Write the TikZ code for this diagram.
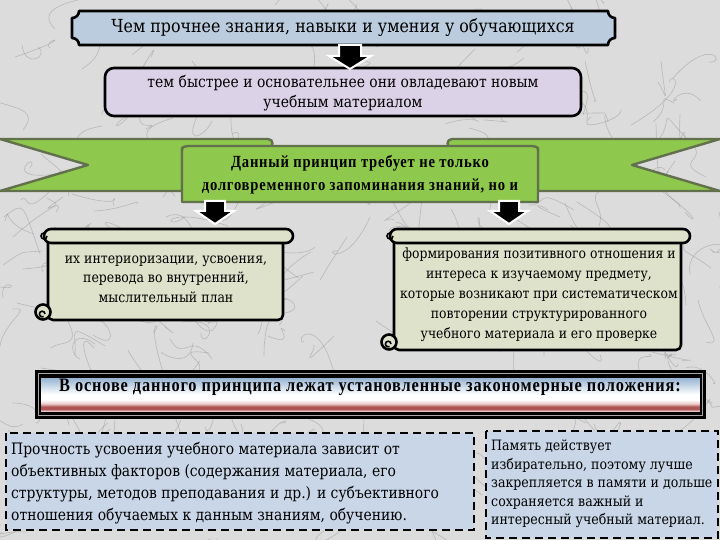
\documentclass[tikz,border=0pt]{standalone}
\usepackage{fontspec}
\setmainfont{DejaVu Serif}[FakeStretch=0.88]
\newfontfamily\condbw{Liberation Serif Bold}[FakeStretch=0.86, LetterSpace=4.5]
\definecolor{bg}{RGB}{220,220,220}
\definecolor{vein}{RGB}{140,140,140}
\definecolor{plaqueblue}{RGB}{186,204,222}
\definecolor{lav}{RGB}{220,210,232}
\definecolor{ribgreen}{RGB}{142,200,76}
\definecolor{ribedge}{RGB}{98,112,78}
\definecolor{scrollfill}{RGB}{222,226,202}
\definecolor{dashfill}{RGB}{200,214,232}
\definecolor{stripblue}{RGB}{150,180,210}
\definecolor{stripred}{RGB}{172,84,84}
\definecolor{strippink}{RGB}{236,204,204}
\pgfdeclareverticalshading{stripshade}{100bp}{color(0bp)=(strippink); color(3bp)=(stripred); color(6bp)=(stripred); color(10bp)=(strippink); color(15bp)=(white); color(22bp)=(white); color(44bp)=(stripblue)}
\tikzset{
  edge/.style={draw=black, line width=2.6pt, line join=round},
  blockarrow/.style={fill=black, draw=white, line width=2pt, line join=miter},
  ribbon/.style={fill=ribgreen, draw=ribedge, line width=2.4pt, line join=round},
  scroll/.style={fill=scrollfill, draw=black, line width=2.6pt, line join=round},
  dashbox/.style={fill=dashfill, draw=black, line width=2.4pt, dash pattern=on 8pt off 5pt},
  txt/.style={inner sep=0pt, text=black},
  veinline/.style={draw=vein, line width=0.6pt, opacity=0.45, line cap=round},
}
\begin{document}
\begin{tikzpicture}[x=1pt,y=-1pt]
\fill[bg] (0,0) rectangle (720,540);
\useasboundingbox (0,0) rectangle (720,540);

% ---- marble texture (veins)
\pgfmathsetseed{17}
\begin{scope}
\clip (0,0) rectangle (720,540);
\foreach \i in {1,...,260} {
  \pgfmathsetmacro\xa{random(0,720)}
  \pgfmathsetmacro\ya{random(0,540)}
  \pgfmathsetmacro\xb{\xa+random(-25,25)}
  \pgfmathsetmacro\yb{\ya+random(-25,25)}
  \pgfmathsetmacro\xc{\xa+random(-35,35)}
  \pgfmathsetmacro\yc{\ya+random(-35,35)}
  \pgfmathsetmacro\xd{\xa+random(-45,45)}
  \pgfmathsetmacro\yd{\ya+random(-45,45)}
  \draw[veinline] (\xa,\ya) .. controls (\xb,\yb) and (\xc,\yc) .. (\xd,\yd);
}
\end{scope}

% ---- top plaque
\draw[edge, fill=plaqueblue]
  (79,11) -- (608,11) .. controls (608,15) and (611,18) .. (615,18)
  -- (615,38) .. controls (611,38) and (608,41) .. (608,45)
  -- (79,45) .. controls (79,41) and (76,38) .. (72,38)
  -- (72,18) .. controls (76,18) and (79,15) .. (79,11) -- cycle;
\node[txt, font=\fontsize{18}{22}\selectfont] (top) at (343,28) {Чем прочнее знания, навыки и умения у обучающихся};

% ---- second box
\draw[edge, fill=lav, rounded corners=9pt] (105,68) rectangle (581,116);
\node[txt, align=center, font=\fontsize{15.8}{19.5}\selectfont] (second) at (343,93)
  {тем быстрее и основательнее они овладевают новым\\учебным материалом};

% arrow 1
\draw[blockarrow] (339,45) -- (361,45) -- (361,56) -- (371,56) -- (350,69) -- (329,56) -- (339,56) -- cycle;

% ---- ribbon
\draw[ribbon] (0,139) -- (268,139) .. controls (274,139) and (274,148) .. (268,148)
  -- (182,148) -- (182,191) -- (0,191) -- (88,165) -- cycle;
\draw[ribbon] (720,139) -- (452,139) .. controls (446,139) and (446,148) .. (452,148)
  -- (538,148) -- (538,191) -- (720,191) -- (632,165) -- cycle;
\draw[ribbon] (182,202) -- (182,152) .. controls (182,147) .. (188,146) -- (532,146)
  .. controls (538,147) .. (538,152) -- (538,202) -- cycle;
\node[txt, align=center, font=\condbw\fontsize{17}{23}\selectfont] (principle) at (360,175)
  {Данный принцип требует не только\\долговременного запоминания знаний, но и};

% arrows 2
\draw[blockarrow] (205,201) -- (225,201) -- (225,211) -- (234,211) -- (215,224) -- (196,211) -- (205,211) -- cycle;
\draw[blockarrow] (499,201) -- (519,201) -- (519,211) -- (528,211) -- (509,224) -- (490,211) -- (499,211) -- cycle;

% ---- left scroll
\draw[scroll, rounded corners=5pt] (48,236) rectangle (283,320);
\draw[scroll, rounded corners=7pt] (44,229) rectangle (293,243);
\draw[scroll] (43,312) circle (7.5);
\draw[black, line width=1.6pt] (47,236) arc[start angle=0, end angle=300, radius=3];
\draw[black, line width=1.6pt] (45,314) arc[start angle=0, end angle=-300, radius=2.8];
\node[txt, align=center, font=\fontsize{14.2}{19.5}\selectfont] (leftscroll) at (166,279)
  {их интериоризации, усвоения,\\перевода во внутренний,\\мыслительный план};

% ---- right scroll
\draw[scroll, rounded corners=5pt] (394,236) rectangle (681,350);
\draw[scroll, rounded corners=7pt] (390,229) rectangle (690,243);
\draw[scroll] (389,342) circle (7.5);
\draw[black, line width=1.6pt] (393,236) arc[start angle=0, end angle=300, radius=3];
\draw[black, line width=1.6pt] (391,344) arc[start angle=0, end angle=-300, radius=2.8];
\node[txt, align=center, font=\fontsize{14.1}{20}\selectfont] (rightscroll) at (539,295)
  {формирования позитивного отношения и\\интереса к изучаемому предмету,\\которые возникают при систематическом\\повторении структурированного\\учебного материала и его проверке};

% ---- strip
\fill[black] (35,370) rectangle (706,419);
\draw[gray!70, line width=1pt] (38.5,373.5) rectangle (702.5,415.5);
\shade[shading=stripshade] (40.5,375.5) rectangle (700.5,413.5);
\draw[black, line width=1pt] (40.5,375.5) rectangle (700.5,413.5);
\node[txt, font=\condbw\fontsize{19}{20}\selectfont] (basis) at (370,387)
  {В основе данного принципа лежат установленные закономерные положения:};

% ---- dashed boxes
\draw[dashbox] (6,433) rectangle (474,530);
\node[txt, anchor=west, align=left, font=\fontsize{15.8}{22}\selectfont] (strength) at (11,483)
  {Прочность усвоения учебного материала зависит от\\объективных факторов (содержания материала, его\\структуры, методов преподавания и др.) и субъективного\\отношения обучаемых к данным знаниям, обучению.};

\draw[dashbox] (486,431) rectangle (718,538);
\node[txt, anchor=west, align=left, font=\fontsize{14.3}{18.5}\selectfont] (memory) at (491,484)
  {Память действует\\избирательно, поэтому лучше\\закрепляется в памяти и дольше\\сохраняется важный и\\интересный учебный материал.};
\end{tikzpicture}
\end{document}
